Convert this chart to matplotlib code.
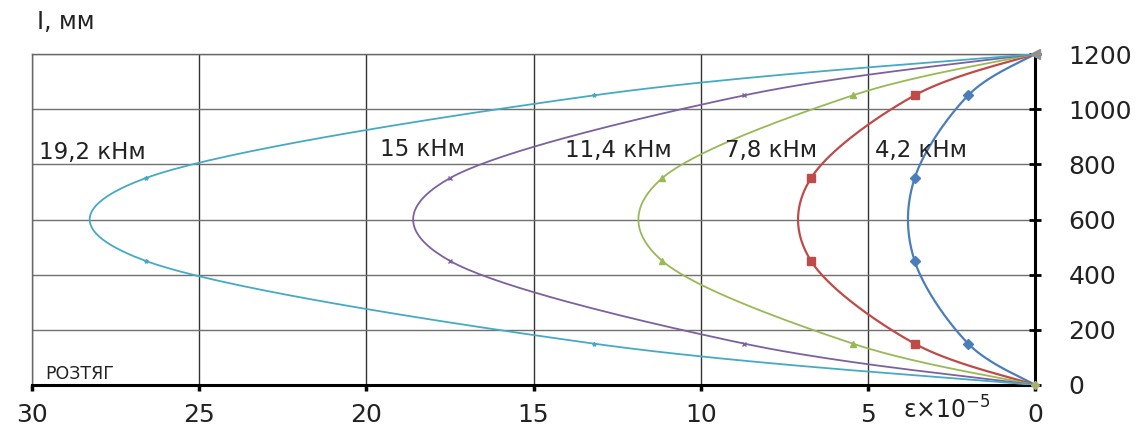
import numpy as np
import matplotlib
matplotlib.use("Agg")
import matplotlib.pyplot as plt

plt.rcParams['font.family'] = ['DejaVu Sans']

# ---- data ----
lengths = [0, 150, 450, 750, 1050, 1200]          # l, мм
strain_4_2 = [0, 2.0, 3.6, 3.6, 2.0, 0]
strain_7_8 = [0, 3.6, 6.7, 6.7, 3.6, 0]
strain_11_4 = [0, 5.45, 11.15, 11.15, 5.45, 0]
strain_15 = [0, 8.7, 17.5, 17.5, 8.7, 0]
strain_19_2 = [0, 13.2, 26.6, 26.6, 13.2, 0]
series_labels = ["4,2 кНм", "7,8 кНм", "11,4 кНм", "15 кНм", "19,2 кНм"]
x_ticks = [30, 25, 20, 15, 10, 5, 0]
y_ticks = [0, 200, 400, 600, 800, 1000, 1200]


def smooth(xs, ys, n=40):
    """Excel-like smoothed line (uniform Catmull-Rom through the data points)."""
    P = np.column_stack([xs, ys]).astype(float)
    P = np.vstack([P[0], P, P[-1]])
    out = []
    t = np.linspace(0, 1, n)[:, None]
    for i in range(1, len(P) - 2):
        p0, p1, p2, p3 = P[i - 1], P[i], P[i + 1], P[i + 2]
        c1 = p1 + (p2 - p0) / 6.0
        c2 = p2 - (p3 - p1) / 6.0
        seg = ((1 - t) ** 3) * p1 + 3 * ((1 - t) ** 2) * t * c1 + 3 * (1 - t) * t ** 2 * c2 + t ** 3 * p2
        out.append(seg if i == 1 else seg[1:])
    out = np.vstack(out)
    return out[:, 0], out[:, 1]


fig = plt.figure(figsize=(11.46, 4.29), dpi=100)
ax = fig.add_axes([32 / 1146, 1 - 385 / 429, (1035 - 32) / 1146, (385 - 54) / 429])

series = [
    (strain_4_2, "#4a7ebb", "D", 5, 1.6),
    (strain_7_8, "#be4b48", "s", 6, 1.6),
    (strain_11_4, "#98b954", "^", 5, 1.3),
    (strain_15, "#7d60a0", "x", 3, 1.3),
    (strain_19_2, "#46aac5", "*", 3, 1.3),
]
for vals, col, mk, ms, lw in series:
    sx, sy = smooth(vals, lengths)
    ax.plot(sx, sy, color=col, lw=lw, zorder=3, solid_capstyle='round')
    ax.plot(vals[1:-1], lengths[1:-1], ls='none', marker=mk, ms=ms, color=col,
            mec=col, mew=1, zorder=4)

ax.plot([0], [1200], marker='<', ms=7, color='#909090', zorder=5, clip_on=False)
ax.plot([0], [0], marker='D', ms=4, color='#a8b070', zorder=5, clip_on=False)

ax.set_xlim(30, 0)
ax.set_ylim(0, 1200)
ax.set_xticks(x_ticks)
ax.set_yticks(y_ticks)
ax.yaxis.tick_right()
ax.xaxis.grid(True, color='#333333', lw=1.0)
ax.yaxis.grid(True, color='#707070', lw=1.0)
ax.set_axisbelow(True)

for s in ['left', 'top']:
    ax.spines[s].set_color('#666666')
    ax.spines[s].set_linewidth(1.0)
for s in ['right', 'bottom']:
    ax.spines[s].set_color('black')
    ax.spines[s].set_linewidth(2.2)

ax.tick_params(axis='y', direction='inout', length=8, width=2, labelsize=18,
               pad=20, colors='black', labelcolor='#222222')
ax.tick_params(axis='x', direction='out', length=4, width=2.5, labelsize=18,
               pad=9, labelcolor='#222222')

label_pos = [(875, 151), (725, 151), (565, 151), (380, 149), (39, 153)]
for lab, (px, py) in zip(series_labels, label_pos):
    fig.text(px / 1146, 1 - py / 429, lab, fontsize=16.5, color='#222222',
             ha='left', va='center')

fig.text(37 / 1146, 1 - 22 / 429, "I, мм", fontsize=17, color='#222222',
         ha='left', va='center')
fig.text(45 / 1146, 1 - 374 / 429, "РОЗТЯГ", fontsize=12.5, color='#222222',
         ha='left', va='center')
fig.text(903 / 1146, 1 - 410 / 429, "ε×10$^{-5}$", fontsize=17, color='#222222',
         ha='left', va='center')

fig.savefig("out.png", dpi=100, facecolor='white')
